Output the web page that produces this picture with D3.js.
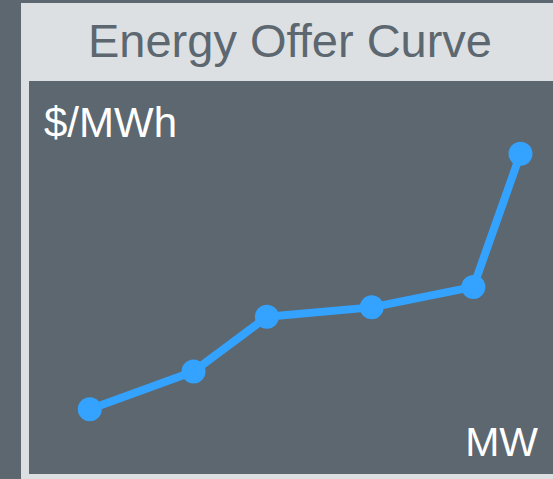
<!DOCTYPE html>
<html>
<head>
<meta charset="utf-8">
<script src="https://cdn.jsdelivr.net/npm/d3@7"></script>
<style>
  body { margin: 0; background: #5c6770; }
  svg { display: block; }
</style>
</head>
<body>
<div id="chart"></div>
<script>
// offer curve steps
const mw = [58, 157, 227, 327, 424, 469]
const price = [16.5, 26.1, 40.0, 42.4, 47.6, 81.5]
const title = "Energy Offer Curve"
const yLabel = "$/MWh"
const xLabel = "MW"

const width = 553, height = 479
const frame = {left: 21, top: 3, right: 553, bottom: 479}
const plot = {left: 29, top: 81, right: 553, bottom: 474}

const svg = d3.select("#chart").append("svg")
    .attr("width", width)
    .attr("height", height)

svg.append("rect")
    .attr("width", width)
    .attr("height", height)
    .attr("fill", "#5c6770")

svg.append("rect")
    .attr("x", frame.left)
    .attr("y", frame.top)
    .attr("width", frame.right - frame.left)
    .attr("height", frame.bottom - frame.top)
    .attr("fill", "#dde0e3")

svg.append("rect")
    .attr("x", plot.left)
    .attr("y", plot.top)
    .attr("width", plot.right - plot.left)
    .attr("height", plot.bottom - plot.top)
    .attr("fill", "#5c6770")

svg.append("text")
    .attr("x", 290)
    .attr("y", 57)
    .attr("text-anchor", "middle")
    .style("font-family", "Liberation Sans, Arial, sans-serif")
    .style("font-size", "47px")
    .attr("fill", "#5c6770")
    .text(title)

const x = d3.scaleLinear()
    .domain([0, 500])
    .range([plot.left, plot.right])

const y = d3.scaleLinear()
    .domain([0, 100])
    .range([plot.bottom, plot.top])

const pts = mw.map(function (d, i) { return [d, price[i]] })

const line = d3.line()
    .x(function (d) { return x(d[0]) })
    .y(function (d) { return y(d[1]) })

svg.append("path")
    .datum(pts)
    .attr("d", line)
    .attr("fill", "none")
    .attr("stroke", "#33a3ff")
    .attr("stroke-width", 8)
    .attr("stroke-linejoin", "round")

svg.selectAll(".pt")
    .data(pts)
    .enter().append("circle")
    .attr("class", "pt")
    .attr("cx", function (d) { return x(d[0]) })
    .attr("cy", function (d) { return y(d[1]) })
    .attr("r", 12)
    .attr("fill", "#33a3ff")

svg.append("text")
    .attr("x", 44)
    .attr("y", 137)
    .style("font-family", "Liberation Sans, Arial, sans-serif")
    .style("font-size", "42px")
    .attr("fill", "#ffffff")
    .text(yLabel)

svg.append("text")
    .attr("x", 538)
    .attr("y", 456)
    .attr("text-anchor", "end")
    .style("font-family", "Liberation Sans, Arial, sans-serif")
    .style("font-size", "41px")
    .attr("fill", "#ffffff")
    .text(xLabel)
</script>
</body>
</html>
